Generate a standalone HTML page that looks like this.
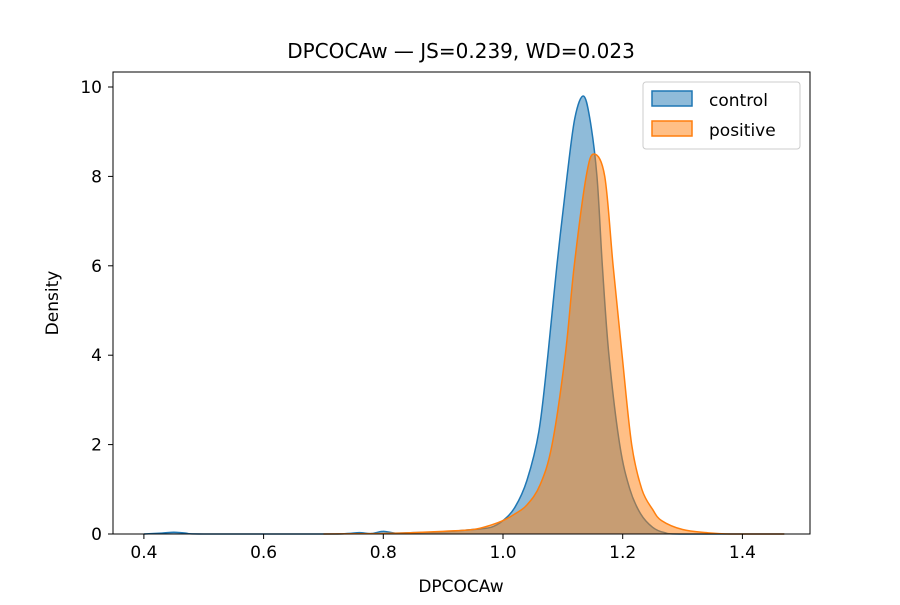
<!DOCTYPE html>
<html><head><meta charset="utf-8"><style>
body{margin:0;background:#fff;}
svg text{font-family:"DejaVu Sans","Liberation Sans",sans-serif;fill:#000;}
</style></head><body>
<svg id="chart" width="900" height="600" viewBox="0 0 900 600">
<rect width="900" height="600" fill="#fff"/>
<text x="461" y="58" font-size="20" text-anchor="middle">DPCOCAw — JS=0.239, WD=0.023</text>
<g id="plot"></g>
<rect x="113" y="72" width="697" height="462" fill="none" stroke="#000" stroke-width="1"/>
<g id="axes"></g>
<text x="461" y="592" font-size="17" text-anchor="middle">DPCOCAw</text>
<text transform="translate(58,303) rotate(-90)" font-size="17" text-anchor="middle">Density</text>
<g>
<rect x="643" y="82" width="157" height="67" rx="3" fill="#fff" fill-opacity="0.8" stroke="#ccc"/>
<g>
<rect x="652" y="91" width="40" height="15" fill="#1f77b4" fill-opacity="0.5" stroke="#1f77b4" stroke-width="1.5"/>
<text x="709" y="106" font-size="17">control</text></g>
<g>
<rect x="652" y="121" width="40" height="15" fill="#ff7f0e" fill-opacity="0.5" stroke="#ff7f0e" stroke-width="1.5"/>
<text x="709" y="136" font-size="17">positive</text></g>
</g>
</svg>
<script>
const controlX=[0.40,0.43,0.45,0.47,0.50,0.70,0.74,0.76,0.78,0.80,0.82,0.85,0.90,0.95,0.98,1.00,1.02,1.04,1.06,1.075,1.09,1.107,1.12,1.134,1.145,1.157,1.166,1.177,1.195,1.212,1.23,1.25,1.27,1.30,1.47];
const controlY=[0,0.02,0.04,0.02,0,0,0.01,0.03,0.01,0.06,0.02,0.03,0.05,0.1,0.15,0.3,0.6,1.2,2.3,4,6,8,9.3,9.8,9.3,8,6,4,2,1,0.45,0.15,0.03,0,0];
const positiveX=[0.70,0.80,0.85,0.90,0.95,0.98,1.00,1.02,1.04,1.062,1.082,1.104,1.119,1.139,1.152,1.170,1.184,1.199,1.215,1.232,1.25,1.265,1.30,1.34,1.38,1.47];
const positiveY=[0,0.01,0.03,0.06,0.1,0.2,0.3,0.45,0.65,1.1,2,4,6,8,8.5,8,6,4,2,1,0.55,0.3,0.1,0.03,0,0];
const xTicks=[0.4,0.6,0.8,1.0,1.2,1.4];
const yTicks=[0,2,4,6,8,10];
const NS="http://www.w3.org/2000/svg";
const xs=v=>503+(v-1.0)*598.5;
const ys=v=>534-v*44.7;
function mk(t,a,p){const e=document.createElementNS(NS,t);for(const k in a)e.setAttribute(k,a[k]);p.appendChild(e);return e;}
function pathD(X,Y){
  const P=X.map((x,i)=>[xs(x),ys(Y[i])]);
  let d="M"+P[0][0]+","+P[0][1];
  for(let i=0;i<P.length-1;i++){
    const p0=P[i-1]||P[i],p1=P[i],p2=P[i+1],p3=P[i+2]||P[i+1];
    let c1y=p1[1]+(p2[1]-p0[1])/6,c2y=p2[1]-(p3[1]-p1[1])/6;
    c1y=Math.min(c1y,534);c2y=Math.min(c2y,534);
    d+=" C"+(p1[0]+(p2[0]-p0[0])/6)+","+c1y+" "+(p2[0]-(p3[0]-p1[0])/6)+","+c2y+" "+p2[0]+","+p2[1];
  }
  return d;
}
const plot=document.getElementById('plot');
[[controlX,controlY,'#1f77b4','control'],[positiveX,positiveY,'#ff7f0e','positive']].forEach(([X,Y,c,n])=>{
  const d=pathD(X,Y);
  const f=mk('path',{d:d+" L"+xs(X[X.length-1])+",534 L"+xs(X[0])+",534 Z",fill:c,'fill-opacity':0.5,stroke:'none'},plot);
  
  
  const l=mk('path',{d:d,fill:'none',stroke:c,'stroke-width':1.5},plot);
  
  
});
const ax=document.getElementById('axes');
xTicks.forEach(t=>{
  const g=mk('g',{},ax);
  
  
  mk('line',{x1:xs(t),x2:xs(t),y1:534,y2:539,stroke:'#000'},g);
  const tx=mk('text',{x:xs(t),y:558,'font-size':17,'text-anchor':'middle'},g);tx.textContent=t.toFixed(1);
});
yTicks.forEach(t=>{
  const g=mk('g',{},ax);
  
  
  mk('line',{x1:108,x2:113,y1:ys(t),y2:ys(t),stroke:'#000'},g);
  const tx=mk('text',{x:102,y:ys(t)+6,'font-size':17,'text-anchor':'end'},g);tx.textContent=t;
});
</script>
</body></html>
